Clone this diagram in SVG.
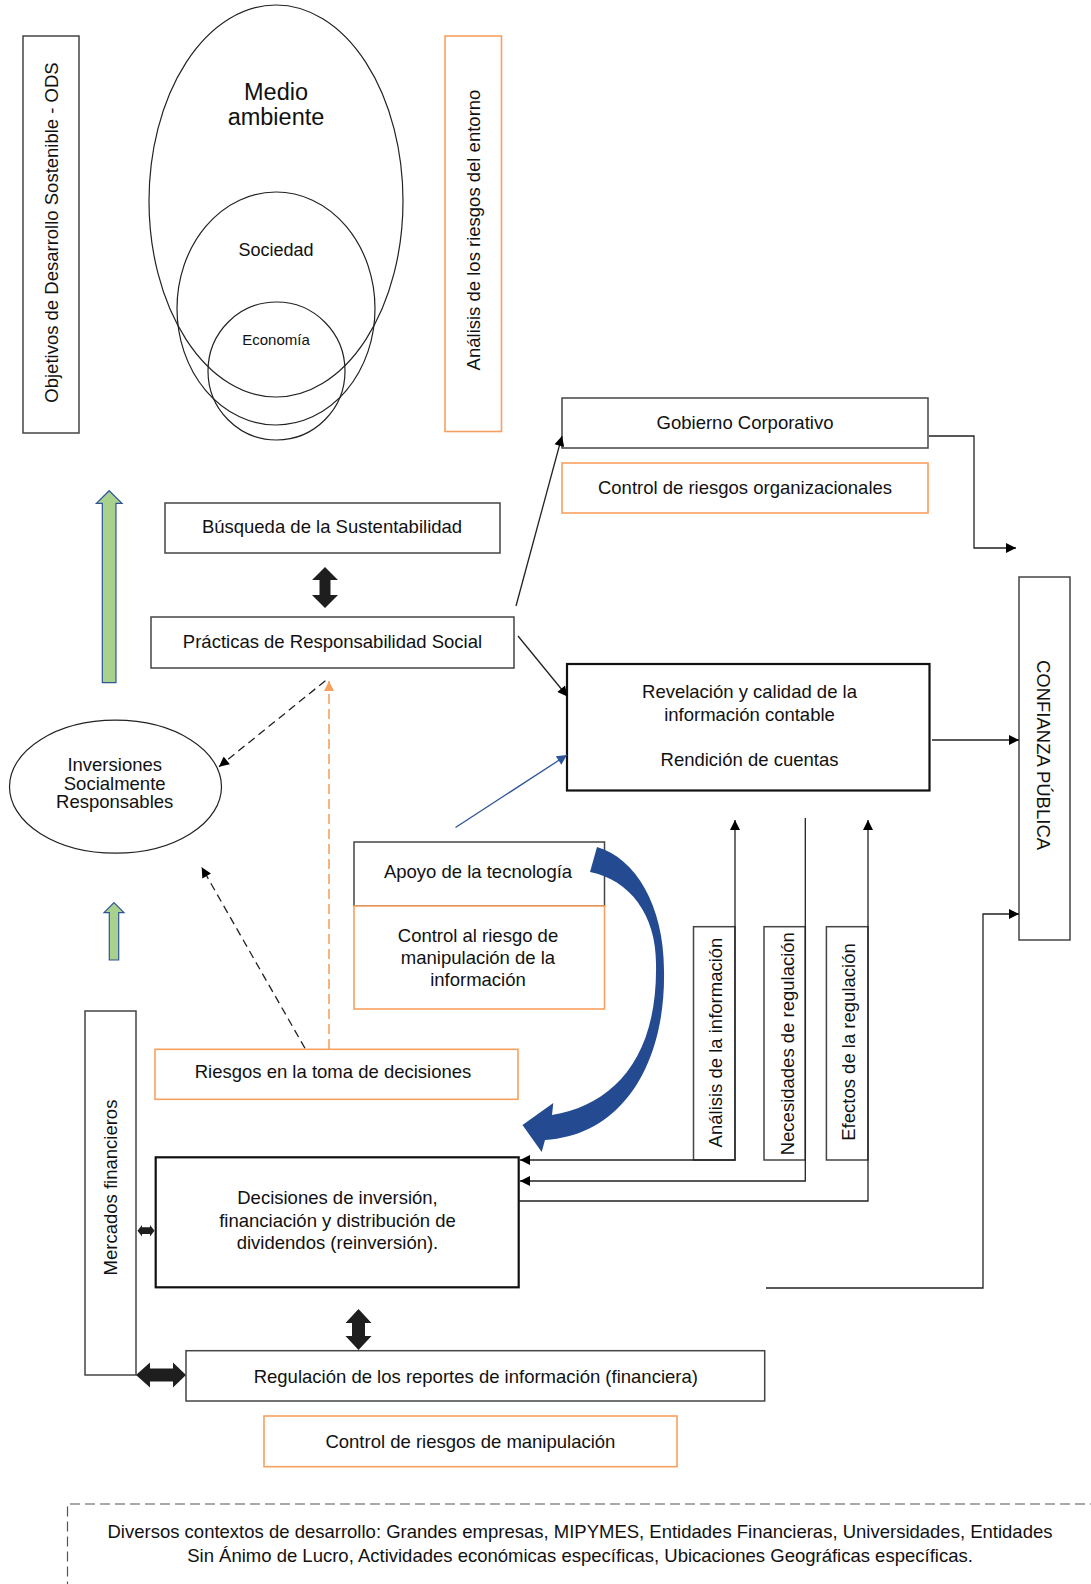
<svg xmlns="http://www.w3.org/2000/svg" width="1091" height="1584" viewBox="0 0 1091 1584">
<style>
text{font-family:"Liberation Sans",Arial,Helvetica,sans-serif;fill:#111;font-size:18.5px;text-anchor:middle}
.box{fill:#fff;stroke:#444;stroke-width:1.5}
.thick{fill:#fff;stroke:#111;stroke-width:2.2}
.org{fill:#fff;stroke:#F7A160;stroke-width:1.6}
.ell{fill:none;stroke:#222;stroke-width:1.2}
.ln{fill:none;stroke:#222;stroke-width:1.3}
.dash{fill:none;stroke:#222;stroke-width:1.3;stroke-dasharray:8 5}
.odash{fill:none;stroke:#F7A160;stroke-width:1.6;stroke-dasharray:10 5}
.blue{fill:none;stroke:#2F5597;stroke-width:1.3}
.dbl{fill:#1e1e1e;stroke:none}
.grn{fill:#A9D18E;stroke:#2F5597;stroke-width:1.2}
</style>
<defs>
<marker id="ah" viewBox="0 0 10 10" refX="10" refY="5" markerWidth="11" markerHeight="10" markerUnits="userSpaceOnUse" orient="auto-start-reverse"><path d="M0,0 L10,5 L0,10 Z" fill="#000"/></marker>
<marker id="ahb" viewBox="0 0 10 10" refX="10" refY="5" markerWidth="11" markerHeight="10" markerUnits="userSpaceOnUse" orient="auto"><path d="M0,0 L10,5 L0,10 Z" fill="#2F5597"/></marker>
<marker id="aho" viewBox="0 0 10 10" refX="10" refY="5" markerWidth="10" markerHeight="11" markerUnits="userSpaceOnUse" orient="auto"><path d="M0,0 L10,5 L0,10 Z" fill="#F7A160"/></marker>
</defs>
<rect width="1091" height="1584" fill="#fff"/>

<g id="ods">
<rect class="box" x="23" y="36" width="56" height="397"/>
<text transform="translate(57.5,232.5) rotate(-90)">Objetivos de Desarrollo Sostenible - ODS</text>
</g>

<g id="circulos">
<ellipse class="ell" cx="276" cy="201" rx="127" ry="196"/>
<ellipse class="ell" cx="276" cy="308.5" rx="99" ry="116.5"/>
<ellipse class="ell" cx="276.5" cy="371" rx="68.5" ry="69"/>
<text x="276" y="100" style="font-size:23.5px">Medio</text>
<text x="276" y="125" style="font-size:23.5px">ambiente</text>
<text x="276" y="256" style="font-size:18px">Sociedad</text>
<text x="276" y="345" style="font-size:15px">Economía</text>
</g>

<g id="analisis-entorno">
<rect class="org" x="445" y="36" width="56.5" height="395.5"/>
<text transform="translate(480,230) rotate(-90)">Análisis de los riesgos del entorno</text>
</g>

<g id="gobierno">
<rect class="box" x="562" y="398" width="366" height="50"/>
<text x="745" y="429">Gobierno Corporativo</text>
</g>
<g id="control-org">
<rect class="org" x="562" y="463" width="366" height="50"/>
<text x="745" y="494">Control de riesgos organizacionales</text>
</g>

<g id="busqueda">
<rect class="box" x="165" y="503" width="335" height="50"/>
<text x="332" y="533">Búsqueda de la Sustentabilidad</text>
</g>

<g id="practicas">
<rect class="box" x="151" y="617" width="363" height="51"/>
<text x="332.5" y="648">Prácticas de Responsabilidad Social</text>
</g>

<g id="revelacion">
<rect class="thick" x="567" y="664" width="362.5" height="126.5"/>
<text x="749.5" y="698">Revelación y calidad de la</text>
<text x="749.5" y="720.7">información contable</text>
<text x="749.5" y="765.7">Rendición de cuentas</text>
</g>

<g id="confianza">
<rect class="box" x="1019" y="577" width="51" height="363"/>
<text transform="translate(1037.3,755) rotate(90)">CONFIANZA PÚBLICA</text>
</g>

<g id="inversiones">
<ellipse class="ell" cx="115.5" cy="786.7" rx="106" ry="66.5"/>
<text x="114.7" y="771">Inversiones</text>
<text x="114.7" y="790">Socialmente</text>
<text x="114.7" y="808">Responsables</text>
</g>

<g id="apoyo">
<rect class="box" x="354" y="842" width="250.5" height="64"/>
<text x="478" y="878">Apoyo de la tecnología</text>
</g>
<g id="control-info">
<rect class="org" x="354" y="906" width="250.5" height="103"/>
<text x="478" y="941.7">Control al riesgo de</text>
<text x="478" y="963.5">manipulación de la</text>
<text x="478" y="986">información</text>
</g>

<g id="analisis-info">
<rect class="box" x="693.5" y="926.7" width="41.5" height="233.3"/>
<text transform="translate(722.4,1042.5) rotate(-90)">Análisis de la información</text>
</g>
<g id="necesidades">
<rect class="box" x="764" y="926.7" width="41.3" height="233.3"/>
<text transform="translate(793.6,1043.7) rotate(-90)">Necesidades de regulación</text>
</g>
<g id="efectos">
<rect class="box" x="826.4" y="926.7" width="41.6" height="233.3"/>
<text transform="translate(855,1042) rotate(-90)">Efectos de la regulación</text>
</g>

<g id="mercados">
<rect class="box" x="85" y="1011" width="51" height="364"/>
<text transform="translate(116.8,1187.5) rotate(-90)">Mercados financieros</text>
</g>

<g id="riesgos-decisiones">
<rect class="org" x="155" y="1049.3" width="363" height="50"/>
<text x="333" y="1078.3">Riesgos en la toma de decisiones</text>
</g>

<g id="decisiones">
<rect class="thick" x="155.7" y="1157.3" width="363" height="130"/>
<text x="337.5" y="1204">Decisiones de inversión,</text>
<text x="337.5" y="1226.7">financiación y distribución de</text>
<text x="337.5" y="1249.3">dividendos (reinversión).</text>
</g>

<g id="regulacion">
<rect class="box" x="186" y="1350.7" width="578.7" height="50.3"/>
<text x="475.8" y="1382.5">Regulación de los reportes de información (financiera)</text>
</g>

<g id="control-manipulacion">
<rect class="org" x="264" y="1416" width="413" height="50.7"/>
<text x="470.4" y="1448">Control de riesgos de manipulación</text>
</g>

<g id="contextos">
<path d="M1100,1504 L67.5,1504 L67.5,1590" fill="none" stroke="#555" stroke-width="1.2" stroke-dasharray="10 5"/>
<text x="580" y="1538">Diversos contextos de desarrollo: Grandes empresas, MIPYMES, Entidades Financieras, Universidades, Entidades</text>
<text x="580" y="1562">Sin Ánimo de Lucro, Actividades económicas específicas, Ubicaciones Geográficas específicas.</text>
</g>

<g id="connectors">
<path class="ln" d="M929,436 L974,436 L974,548 L1016,548" marker-end="url(#ah)"/>
<path class="ln" d="M932,740 L1019,740" marker-end="url(#ah)"/>
<path class="ln" d="M766,1288 L983,1288 L983,914 L1019,914" marker-end="url(#ah)"/>
<path class="ln" d="M516,606 L562,436" marker-end="url(#ah)"/>
<path class="ln" d="M518,636 L567.5,696.5" marker-end="url(#ah)"/>
<path class="blue" d="M455.5,827.5 L567,755" marker-end="url(#ahb)"/>
<path class="ln" d="M520,1160 L735,1160 L735,820" marker-start="url(#ah)" marker-end="url(#ah)"/>
<path class="ln" d="M805.3,818 L805.3,1181 L520,1181" marker-end="url(#ah)"/>
<path class="ln" d="M519,1201 L868,1201 L868,820" marker-end="url(#ah)"/>
<path class="dash" d="M325.4,680.7 L219,766.7" marker-end="url(#ah)"/>
<path class="dash" d="M305,1048.3 L201.7,867.3" marker-end="url(#ah)"/>
<path class="odash" d="M329,1049 L329,681" marker-end="url(#aho)"/>
<polygon class="dbl" points="325,567 338,580 330.5,580 330.5,595 338,595 325,608 312,595 319.5,595 319.5,580 312,580"/>
<polygon class="dbl" points="358.5,1309 371.5,1323 365,1323 365,1336 371.5,1336 358.5,1350 345.5,1336 352,1336 352,1323 345.5,1323"/>
<polygon class="dbl" points="136,1375 150,1362.5 150,1368.5 173,1368.5 173,1362.5 186,1375 173,1387.5 173,1381.5 150,1381.5 150,1387.5"/>
<polygon class="dbl" points="137.5,1230.7 142,1225 142,1227.3 150,1227.3 150,1225 154.5,1230.7 150,1236.5 150,1234 142,1234 142,1236.5"/>
<polygon class="grn" points="109.2,490.7 122,503.3 116,503.3 116,682.7 102.3,682.7 102.3,503.3 96.4,503.3"/>
<polygon class="grn" points="114,902.7 124,912.7 118.7,912.7 118.7,960 109.3,960 109.3,912.7 104,912.7"/>
<path d="M597,847 C635,858 664,905 664,970 C666,1060 625,1135 545,1140 L541.7,1152 L522.5,1125 L553.3,1103 L552,1115 C612,1105 658,1060 656,963 C656,915 630,880 590,872 Z" fill="#244B92"/>
</g>
</svg>
